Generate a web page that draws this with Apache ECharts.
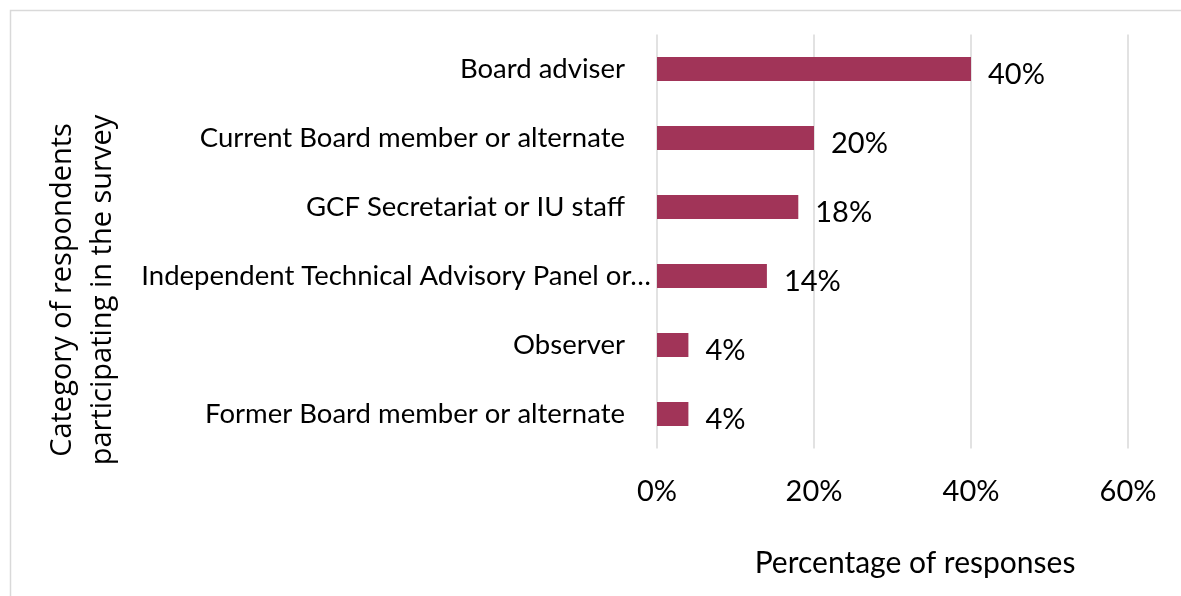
<!DOCTYPE html>
<html><head><meta charset="utf-8">
<script src="https://cdn.jsdelivr.net/npm/echarts@6/dist/echarts.min.js"></script>
<style>html,body{margin:0;padding:0;background:#fff}#c{width:1181px;height:596px}</style>
</head><body><div id="c"></div>
<script>
const categories = ["Board adviser","Current Board member or alternate","GCF Secretariat or IU staff","Independent Technical Advisory Panel or…","Observer","Former Board member or alternate"];
const values = [40,20,18,14,4,4];
const xTicks = [0,20,40,60];
const xAxisTitle = "Percentage of responses";
const yAxisTitle = "Category of respondents\nparticipating in the survey";

const chart = echarts.init(document.getElementById('c'));
const FONT = 'Lato';
const labStyle = {fontFamily:FONT,fontSize:27.5,color:'#000'};
chart.setOption({
  animation:false,
  grid:{left:657,right:53,top:34.5,bottom:147.5},
  xAxis:{type:'value',min:0,max:60,interval:20,
    axisLine:{show:false},axisTick:{show:false},
    splitLine:{lineStyle:{color:'#d9d9d9',width:1.5}},
    axisLabel:{formatter:v=>v+'%',fontFamily:FONT,fontSize:29,color:'#000',margin:29}},
  yAxis:{type:'category',inverse:true,data:categories,
    axisLabel:Object.assign({margin:6,
      formatter:v=>v.endsWith('…')?'{a|'+v+'}':'{p|'+v+'}',
      rich:{a:Object.assign({},labStyle),p:Object.assign({padding:[0,26,0,0]},labStyle)}},labStyle),
    axisLine:{show:false},axisTick:{show:false}},
  series:[{type:'bar',data:values,barWidth:24,
    itemStyle:{color:'#A13458'},
    label:{show:true,position:'right',distance:17,formatter:p=>p.value+'%',fontFamily:FONT,fontSize:29,color:'#000',offset:[0,6]}}],
  graphic:[
    {type:'rect',shape:{x:10.5,y:10.5,width:1300,height:800},style:{fill:'none',stroke:'#d9d9d9',lineWidth:1.5},silent:true},
    {type:'text',x:915,y:563,style:{text:xAxisTitle,font:'30px '+FONT,fill:'#000',textAlign:'center',textVerticalAlign:'middle'}},
    {type:'text',x:83,y:290,rotation:Math.PI/2,style:{text:yAxisTitle,font:'29px "Open Sans"',fill:'#000',textAlign:'center',textVerticalAlign:'middle',lineHeight:40}}
  ]
});
</script></body></html>
